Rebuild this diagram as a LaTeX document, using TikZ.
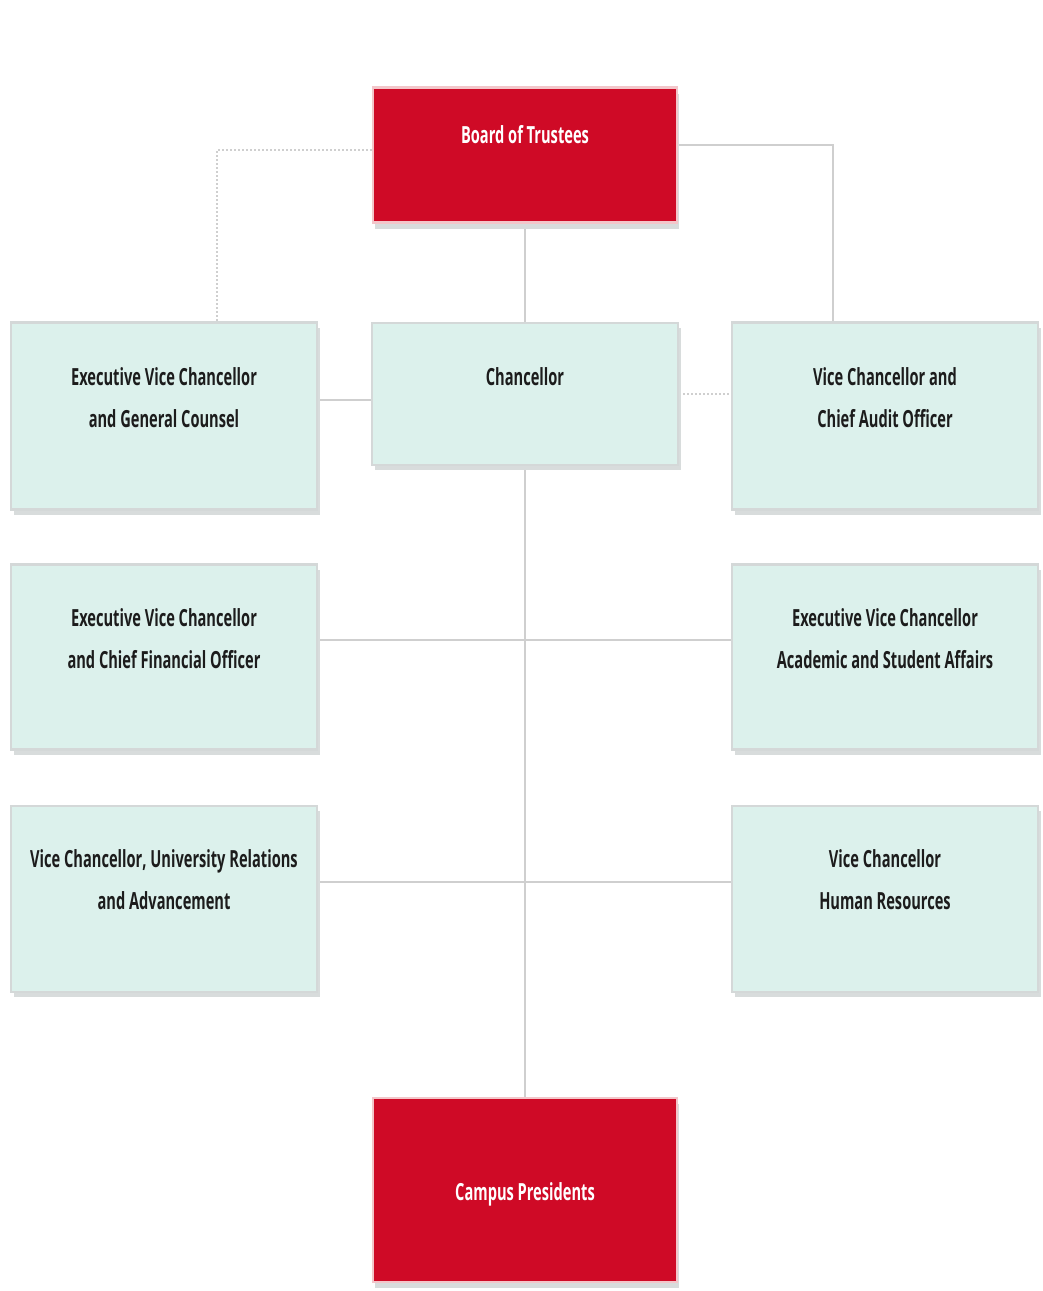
\documentclass[tikz,border=0pt]{standalone}
\usepackage{fontspec}
\setmainfont{Open Sans}[FakeStretch=0.62]
\usetikzlibrary{backgrounds}
\definecolor{boardred}{HTML}{CF0A26}
\definecolor{pinkframe}{HTML}{F3C6CA}
\definecolor{mintfill}{HTML}{DCF1EC}
\definecolor{framegray}{HTML}{D4D8D8}
\definecolor{shadowgray}{HTML}{D8DCDC}
\definecolor{linegray}{HTML}{CFCFCF}
\definecolor{inkdark}{HTML}{1C1C1C}
\tikzset{
  redbox/.style={rectangle, inner sep=0pt, fill=boardred, draw=pinkframe, line width=2.5pt,
    minimum width=304pt, preaction={fill=shadowgray, transform canvas={shift={(2pt,-6pt)}}}},
  mintbox/.style={rectangle, inner sep=0pt, fill=mintfill, draw=framegray, line width=2.5pt,
    minimum width=306pt, preaction={fill=shadowgray, transform canvas={shift={(3pt,-5pt)}}}},
  redlabel/.style={text=white, font=\bfseries\fontsize{23.6}{42}\selectfont, align=center, inner sep=0pt},
  mintlabel/.style={text=inkdark, font=\bfseries\fontsize{23.6}{42}\selectfont, align=center, inner sep=0pt},
  conn/.style={draw=linegray, line width=1.8pt},
  dotconn/.style={draw=linegray, line width=2pt, dotted}
}
\begin{document}
\begin{tikzpicture}[x=1pt,y=-1pt]
\useasboundingbox (0,0) rectangle (1042,1291);

% boxes
\node[redbox, minimum height=135pt] (bot) at (525,155) {};
\node[redlabel] (botT) at (525,135) {Board of Trustees};

\node[mintbox, minimum height=142pt] (chan) at (525,394) {};
\node[mintlabel] (chanT) at (525,377) {Chancellor};

\node[mintbox, minimum height=187pt] (evcgc) at (164,416) {};
\node[mintlabel] (evcgcT) at (164,398) {Executive Vice Chancellor\\and General Counsel};

\node[mintbox, minimum height=187pt] (vcao) at (885,416) {};
\node[mintlabel] (vcaoT) at (885,398) {Vice Chancellor and\\Chief Audit Officer};

\node[mintbox, minimum height=185pt] (evcfo) at (164,657) {};
\node[mintlabel] (evcfoT) at (164,639) {Executive Vice Chancellor\\and Chief Financial Officer};

\node[mintbox, minimum height=185pt] (evcas) at (885,657) {};
\node[mintlabel] (evcasT) at (885,639) {Executive Vice Chancellor\\Academic and Student Affairs};

\node[mintbox, minimum height=186pt] (vcur) at (164,899) {};
\node[mintlabel] (vcurT) at (164,880) {Vice Chancellor, University Relations\\and Advancement};

\node[mintbox, minimum height=186pt] (vchr) at (885,899) {};
\node[mintlabel] (vchrT) at (885,880) {Vice Chancellor\\Human Resources};

\node[redbox, minimum height=184pt] (cp) at (525,1190) {};
\node[redlabel] (cpT) at (525,1194) {Campus Presidents};

% connectors behind the boxes
\begin{scope}[on background layer]
  \fill[white] (0,0) rectangle (1042,1291);
  \coordinate (gcTop) at ([xshift=53pt]evcgc.north);
  \coordinate (aoTop) at ([xshift=-52pt]vcao.north);
  \draw[conn] (bot.south) -- (chan.north);
  \draw[conn] (chan.south) -- (cp.north);
  \draw[dotconn] ([yshift=5pt]bot.west) -| (gcTop);
  \draw[conn] ([yshift=10pt]bot.east) -| (aoTop);
  \draw[conn] ([yshift=-6pt]chan.west) -- ([yshift=-6pt]chan.west -| evcgc.east);
  \draw[dotconn] (chan.east) -- (chan.east -| vcao.west);
  \draw[conn] ([yshift=17pt]evcfo.east) -- ([yshift=17pt]evcas.west);
  \draw[conn] ([yshift=17pt]vcur.east) -- ([yshift=17pt]vchr.west);
\end{scope}
\end{tikzpicture}
\end{document}
